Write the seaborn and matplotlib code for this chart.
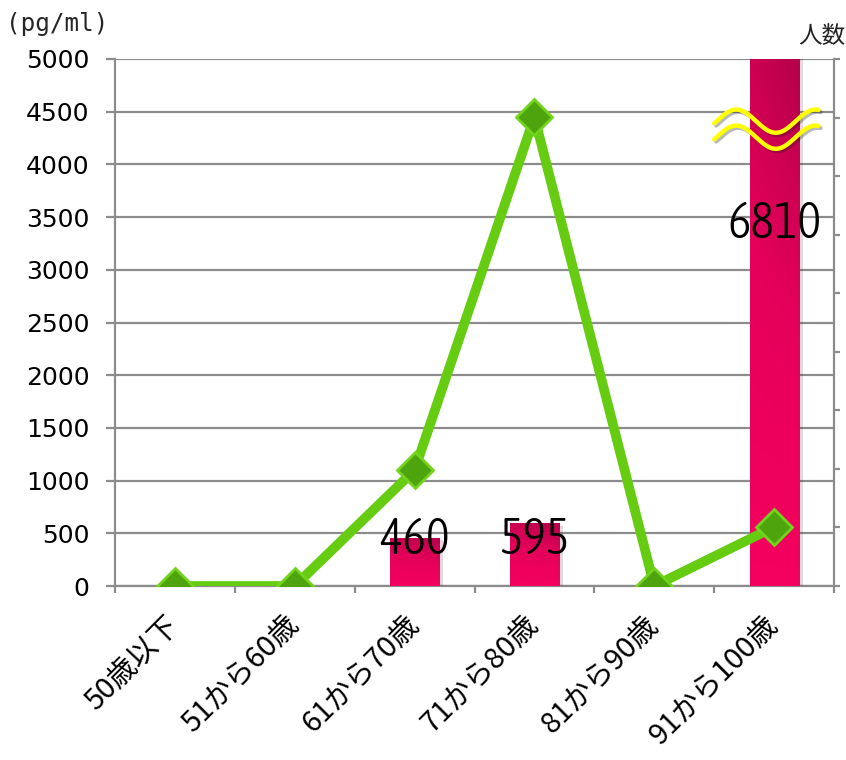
import numpy as np
import pandas as pd
import matplotlib
matplotlib.use('Agg')
import matplotlib.pyplot as plt
import matplotlib.patheffects as pe
from matplotlib import font_manager
from matplotlib.font_manager import FontProperties
from matplotlib.colors import LinearSegmentedColormap
import seaborn as sns

# ---------------- data ----------------
categories = ['50歳以下', '51から60歳', '61から70歳', '71から80歳', '81から90歳', '91から100歳']
bar_values = [0, 0, 460, 595, 0, 6810]          # pg/ml (bars)
line_values = [0, 0, 1100, 4450, 0, 560]        # green line
bar_labels = ['', '', '460', '595', '', '6810']
y_ticks = [0, 500, 1000, 1500, 2000, 2500, 3000, 3500, 4000, 4500, 5000]
right_ticks = [0, 1, 2, 3, 4, 5, 6, 7, 8, 9]

# ---------------- style ----------------
sns.set_theme(style='white')
plt.rcParams['font.family'] = ['Noto Sans CJK JP', 'DejaVu Sans']


def _w(v):
    table = {'thin': 100, 'extralight': 200, 'light': 300, 'normal': 400, 'regular': 400,
             'book': 400, 'medium': 500, 'semibold': 600, 'bold': 700, 'heavy': 800, 'black': 900}
    return v if isinstance(v, (int, float)) else table.get(str(v).lower(), 400)


# pick a narrow font (lightest weight from 300 up) for the big value labels if one exists
label_fp = FontProperties(family='Noto Sans CJK JP', size=32)
cands = []
for f in font_manager.fontManager.ttflist:
    nm = f.name
    if ('Narrow' in nm or 'Condensed' in nm or f.stretch in ('condensed', 'semi-condensed')) \
            and f.style == 'normal' and 300 <= _w(f.weight) <= 400:
        cands.append((abs(_w(f.weight) - 330), 0 if 'Narrow' in nm else 1, f.fname))
if cands:
    cands.sort()
    label_fp = FontProperties(fname=cands[0][2], size=36)

GRAY = '#8c8c8c'
W, H = 846, 760
fig = plt.figure(figsize=(W / 100, H / 100), dpi=100)
ax = fig.add_axes([115 / W, 1 - 586 / H, (834 - 115) / W, (586 - 59) / H])

df = pd.DataFrame({'cat': categories, 'bar': bar_values, 'line': line_values})

sns.barplot(data=df, x='cat', y='bar', order=categories, color='#e8005a',
            width=0.41, linewidth=0, ax=ax, zorder=3)

YMAX = 5000
ax.set_ylim(0, YMAX)
ax.set_xlim(-0.5, len(categories) - 0.5)

# gradient fill on bars
cmap = LinearSegmentedColormap.from_list('pink', ['#f5005f', '#e4005a', '#b5004a'])
for p in list(ax.patches):
    h = p.get_height()
    if h <= 0:
        continue
    x0, w = p.get_x(), p.get_width()
    top = min(h, YMAX)
    yy, xx = np.mgrid[0:1:200j, 0:1:50j]
    t = yy * (0.75 + 0.25 * xx)
    im = ax.imshow(t, extent=[x0, x0 + w, 0, top], origin='lower', cmap=cmap,
                   vmin=0, vmax=1, aspect='auto', zorder=3.1, interpolation='bilinear')
    im.set_clip_path(p)
    p.set_path_effects([pe.SimplePatchShadow(offset=(3, -2), alpha=0.15), pe.Normal()])

# line
sns.pointplot(data=df, x='cat', y='line', order=categories, color='#66cc11',
              markers='D', errorbar=None, ax=ax, zorder=5)
ln = ax.lines[-1]
ln.set_linewidth(7)
ln.set_color('#66cc11')
ln.set_marker('D')
ln.set_markersize(18)
ln.set_markerfacecolor('#4ea40c')
ln.set_markeredgecolor('#72d41c')
ln.set_markeredgewidth(2)
ln.set_zorder(5)

ax.set_ylim(0, YMAX)
ax.set_xlim(-0.5, len(categories) - 0.5)

# bar value labels
label_y = [0, 0, 436, 436, 0, 3430]
for i, txt in enumerate(bar_labels):
    if txt:
        ax.text(i, label_y[i], txt, ha='center', va='center', fontproperties=label_fp,
                color='black', zorder=7)

# break marks on tall bar
xs = np.linspace(4.50, 5.37, 200)
wave = 4410 + 110 * np.sin(2 * np.pi * (xs - 4.52) / 0.66)
for off in (0, -152):
    ax.plot(xs, wave + off, color='#ffff00', lw=3.2, zorder=6, solid_capstyle='round',
            path_effects=[pe.SimpleLineShadow(offset=(1.5, -1.5), alpha=0.3), pe.Normal()])

# axes styling
ax.set_yticks(y_ticks)
ax.set_yticklabels([str(v) for v in y_ticks], family='DejaVu Sans')
ax.yaxis.grid(True, color=GRAY, lw=1.6)
ax.xaxis.grid(False)
ax.set_axisbelow(True)
for s in ['top', 'right']:
    ax.spines[s].set_visible(False)
for s in ['left', 'bottom']:
    ax.spines[s].set_color(GRAY)
    ax.spines[s].set_linewidth(1.6)
ax.tick_params(axis='y', which='major', left=True, length=6.5, width=1.6, color=GRAY,
               labelsize=18, pad=12, labelcolor='black')

ax.set_xticks(range(len(categories)))
ax.set_xticklabels(categories)
ax.set_xticks(np.arange(-0.5, len(categories), 1.0), minor=True)
ax.tick_params(axis='x', which='major', bottom=True, length=0, labelsize=21, pad=25,
               labelcolor='black')
ax.tick_params(axis='x', which='minor', bottom=True, length=5, width=1.6, color=GRAY)
plt.setp(ax.get_xticklabels(), rotation=45, ha='right', va='center', rotation_mode='anchor')
ax.set_xlabel('')
ax.set_ylabel('')

# right axis (labels fall outside canvas in the reference)
ax2 = ax.twinx()
ax2.set_ylim(0, 9)
ax2.set_yticks(right_ticks)
ax2.set_yticklabels([])
for s in ['top', 'left', 'bottom']:
    ax2.spines[s].set_visible(False)
ax2.spines['right'].set_color(GRAY)
ax2.spines['right'].set_linewidth(1.6)
ax2.tick_params(axis='y', right=True, length=4, width=1.6, color=GRAY)
ax2.grid(False)

fig.text(6 / W, 1 - 24 / H, '(pg/ml)', fontsize=17.5, family='DejaVu Sans Mono',
         ha='left', va='center')
fig.text(798 / W, 1 - 37 / H, '人数', fontsize=17, ha='left', va='center')

fig.savefig('out.png', dpi=100)
